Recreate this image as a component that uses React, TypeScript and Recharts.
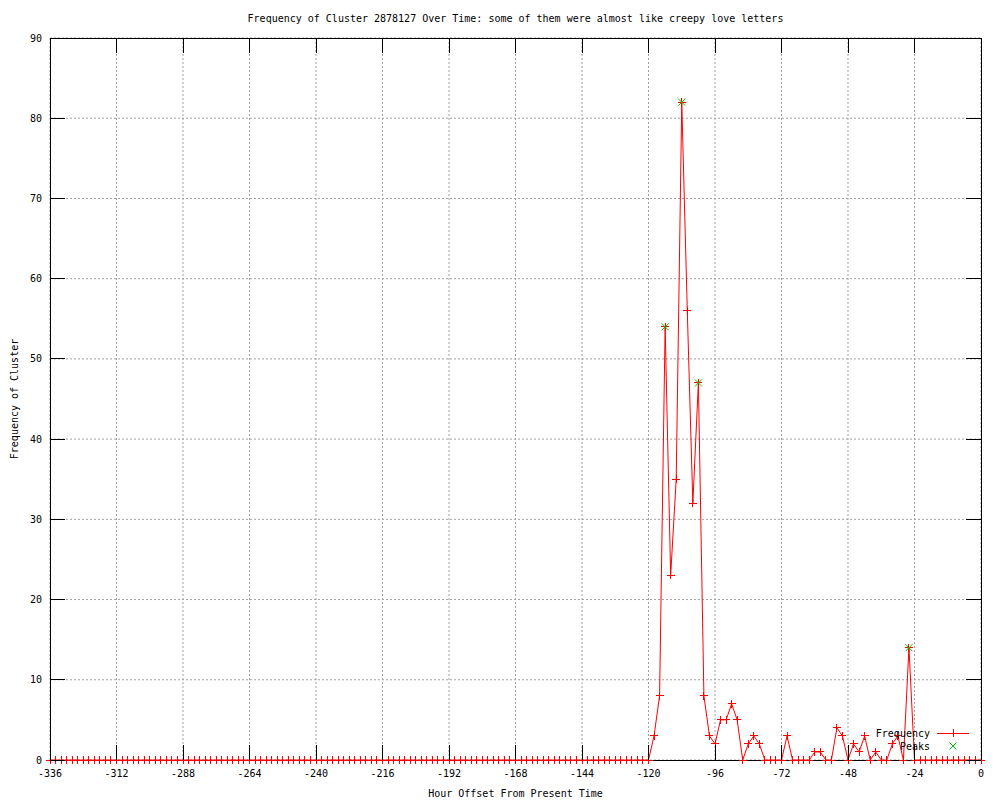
import React from 'react';
import { ComposedChart, Line, XAxis, YAxis, CartesianGrid, ReferenceArea, Legend } from 'recharts';

const title = 'Frequency of Cluster 2878127 Over Time: some of them were almost like creepy love letters';
const xLabel = 'Hour Offset From Present Time';
const yLabel = 'Frequency of Cluster';

const hours = [
  -336, -334, -332, -330, -328, -326, -324, -322, -320, -318, -316, -314,
  -312, -310, -308, -306, -304, -302, -300, -298, -296, -294, -292, -290,
  -288, -286, -284, -282, -280, -278, -276, -274, -272, -270, -268, -266,
  -264, -262, -260, -258, -256, -254, -252, -250, -248, -246, -244, -242,
  -240, -238, -236, -234, -232, -230, -228, -226, -224, -222, -220, -218,
  -216, -214, -212, -210, -208, -206, -204, -202, -200, -198, -196, -194,
  -192, -190, -188, -186, -184, -182, -180, -178, -176, -174, -172, -170,
  -168, -166, -164, -162, -160, -158, -156, -154, -152, -150, -148, -146,
  -144, -142, -140, -138, -136, -134, -132, -130, -128, -126, -124, -122,
  -120, -118, -116, -114, -112, -110, -108, -106, -104, -102, -100, -98,
  -96, -94, -92, -90, -88, -86, -84, -82, -80, -78, -76, -74,
  -72, -70, -68, -66, -64, -62, -60, -58, -56, -54, -52, -50,
  -48, -46, -44, -42, -40, -38, -36, -34, -32, -30, -28, -26,
  -24, -22, -20, -18, -16, -14, -12, -10, -8, -6, -4, -2,
  0,
];

const frequency = [
  0, 0, 0, 0, 0, 0, 0, 0, 0, 0, 0, 0,
  0, 0, 0, 0, 0, 0, 0, 0, 0, 0, 0, 0,
  0, 0, 0, 0, 0, 0, 0, 0, 0, 0, 0, 0,
  0, 0, 0, 0, 0, 0, 0, 0, 0, 0, 0, 0,
  0, 0, 0, 0, 0, 0, 0, 0, 0, 0, 0, 0,
  0, 0, 0, 0, 0, 0, 0, 0, 0, 0, 0, 0,
  0, 0, 0, 0, 0, 0, 0, 0, 0, 0, 0, 0,
  0, 0, 0, 0, 0, 0, 0, 0, 0, 0, 0, 0,
  0, 0, 0, 0, 0, 0, 0, 0, 0, 0, 0, 0,
  0, 3, 8, 54, 23, 35, 82, 56, 32, 47, 8, 3,
  2, 5, 5, 7, 5, 0, 2, 3, 2, 0, 0, 0,
  0, 3, 0, 0, 0, 0, 1, 1, 0, 0, 4, 3,
  0, 2, 1, 3, 0, 1, 0, 0, 2, 3, 0, 14,
  0, 0, 0, 0, 0, 0, 0, 0, 0, 0, 0, 0,
  0,
];

const peakHours = [-114, -108, -102, -26];
const peakValues = [54, 82, 47, 14];

const xTicks = [-336, -312, -288, -264, -240, -216, -192, -168, -144, -120, -96, -72, -48, -24, 0];
const yTicks = [0, 10, 20, 30, 40, 50, 60, 70, 80, 90];

const data = hours.map((h, i) => {
  const pi = peakHours.indexOf(h);
  return { hour: h, freq: frequency[i], peak: pi >= 0 ? peakValues[pi] : null };
});

const W = 1000;
const H = 800;
const MARGIN = { top: 38, right: 19, bottom: 0, left: 0 };
const Y_AXIS_W = 50;
const X_AXIS_H = 40;
const LEFT = MARGIN.left + Y_AXIS_W;
const RIGHT = W - MARGIN.right;
const TOP = MARGIN.top;
const BOTTOM = H - MARGIN.bottom - X_AXIS_H;
const TICK = 15;
const FONT = 'DejaVu Sans Mono';
const RED = '#ff0000';
const GREEN = '#00c000';

const textStyle = { fontFamily: FONT, fontSize: 10, fill: '#000' };

const XTick = (props: any) => {
  const { x, payload } = props;
  return (
    <g>
      <line x1={x} x2={x} y1={BOTTOM} y2={BOTTOM - TICK} stroke="#000" shapeRendering="crispEdges" />
      <line x1={x} x2={x} y1={TOP} y2={TOP + TICK} stroke="#000" shapeRendering="crispEdges" />
      <text x={x} y={BOTTOM + 13} textAnchor="middle" dominantBaseline="central" style={textStyle}>
        {String(payload.value)}
      </text>
    </g>
  );
};

const YTick = (props: any) => {
  const { y, payload } = props;
  return (
    <g>
      <line x1={LEFT} x2={LEFT + TICK} y1={y} y2={y} stroke="#000" shapeRendering="crispEdges" />
      <line x1={RIGHT} x2={RIGHT - TICK} y1={y} y2={y} stroke="#000" shapeRendering="crispEdges" />
      <text x={LEFT - 8} y={y} textAnchor="end" dominantBaseline="central" style={textStyle}>
        {String(payload.value)}
      </text>
    </g>
  );
};

const Cross = (props: any) => {
  const { cx, cy, index } = props;
  if (cx == null || cy == null) return <g key={`c${index}`} />;
  return (
    <g key={`c${index}`}>
      <line x1={cx - 4} x2={cx + 4} y1={cy} y2={cy} stroke={RED} shapeRendering="crispEdges" />
      <line x1={cx} x2={cx} y1={cy - 4} y2={cy + 4} stroke={RED} shapeRendering="crispEdges" />
    </g>
  );
};

const XMark = (props: any) => {
  const { cx, cy, index, payload } = props;
  if (cx == null || cy == null || payload == null || payload.peak == null) return <g key={`p${index}`} />;
  return (
    <g key={`p${index}`}>
      <line x1={cx - 3.5} x2={cx + 3.5} y1={cy - 3.5} y2={cy + 3.5} stroke={GREEN} />
      <line x1={cx - 3.5} x2={cx + 3.5} y1={cy + 3.5} y2={cy - 3.5} stroke={GREEN} />
    </g>
  );
};

const LegendContent = () => (
  <svg width={120} height={30} style={{ display: 'block' }}>
    <text x={60} y={9} textAnchor="end" dominantBaseline="central" style={textStyle}>Frequency</text>
    <line x1={67} x2={99} y1={9} y2={9} stroke={RED} shapeRendering="crispEdges" />
    <line x1={83} x2={83} y1={5} y2={13} stroke={RED} shapeRendering="crispEdges" />
    <text x={60} y={22} textAnchor="end" dominantBaseline="central" style={textStyle}>Peaks</text>
    <line x1={79.5} x2={86.5} y1={18.5} y2={25.5} stroke={GREEN} />
    <line x1={79.5} x2={86.5} y1={25.5} y2={18.5} stroke={GREEN} />
  </svg>
);

const YLabel = (props: any) => {
  const vb = props.viewBox || {};
  const cx = 14;
  const cy = (vb.y ?? TOP) + (vb.height ?? BOTTOM - TOP) / 2;
  return (
    <text x={cx} y={cy} transform={`rotate(-90 ${cx} ${cy})`} textAnchor="middle" dominantBaseline="central" style={textStyle}>
      {yLabel}
    </text>
  );
};

const XLabel = (props: any) => {
  const vb = props.viewBox || {};
  const cx = (vb.x ?? LEFT) + (vb.width ?? RIGHT - LEFT) / 2;
  return (
    <text x={cx} y={BOTTOM + 33} textAnchor="middle" dominantBaseline="central" style={textStyle}>
      {xLabel}
    </text>
  );
};

const TitleLabel = (props: any) => {
  const vb = props.viewBox || {};
  const cx = (vb.x ?? LEFT) + (vb.width ?? RIGHT - LEFT) / 2;
  return (
    <text x={cx} y={TOP - 20} textAnchor="middle" dominantBaseline="central" style={textStyle}>
      {title}
    </text>
  );
};

export default function App() {
  return (
    <div style={{ position: 'absolute', left: 0, top: 0, width: W, height: H, background: '#fff' }}>
      <ComposedChart width={W} height={H} data={data} margin={MARGIN}>
        <CartesianGrid stroke="#a0a0a0" strokeDasharray="2 2" verticalPoints={undefined} />
        <XAxis
          dataKey="hour"
          type="number"
          domain={[-336, 0]}
          ticks={xTicks}
          height={X_AXIS_H}
          axisLine={false}
          tickLine={false}
          tick={<XTick />}
          interval={0}
          label={<XLabel />}
        />
        <YAxis
          type="number"
          domain={[0, 90]}
          ticks={yTicks}
          width={Y_AXIS_W}
          axisLine={false}
          tickLine={false}
          tick={<YTick />}
          interval={0}
          label={<YLabel />}
        />
        <ReferenceArea
          x1={-336}
          x2={0}
          y1={0}
          y2={90}
          fill="none"
          fillOpacity={0}
          stroke="#000"
          strokeOpacity={1}
          shapeRendering="crispEdges"
          label={<TitleLabel />}
        />
        <Line
          type="linear"
          dataKey="freq"
          stroke={RED}
          strokeWidth={1}
          dot={<Cross />}
          activeDot={false}
          isAnimationActive={false}
          legendType="none"
        />
        <Line
          type="linear"
          dataKey="peak"
          stroke="none"
          dot={<XMark />}
          activeDot={false}
          connectNulls={false}
          isAnimationActive={false}
          legendType="none"
        />
        <Legend
          layout="horizontal"
          align="center"
          verticalAlign="middle"
          content={<LegendContent />}
          wrapperStyle={{ left: 870, top: 724, width: 120, height: 30, bottom: 'auto', right: 'auto' }}
        />
      </ComposedChart>
    </div>
  );
}
